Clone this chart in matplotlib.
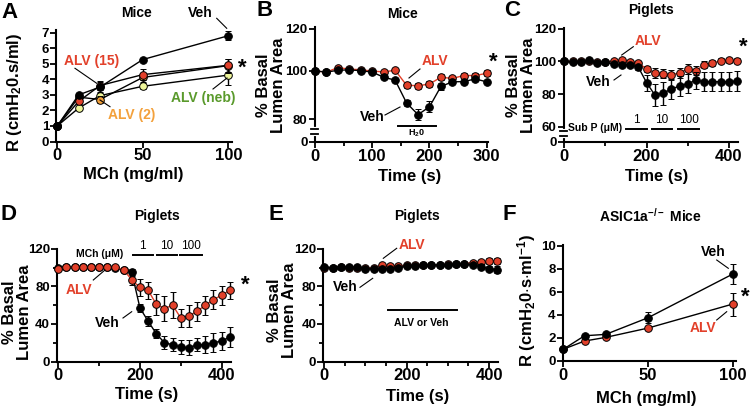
import numpy as np
import matplotlib
matplotlib.use('Agg')
import matplotlib.pyplot as plt
from matplotlib.lines import Line2D
from matplotlib.ticker import FixedLocator, NullLocator

plt.rcParams['font.family'] = ['Liberation Sans', 'DejaVu Sans']
plt.rcParams['font.weight'] = 'bold'
plt.rcParams['mathtext.fontset'] = 'custom'
plt.rcParams['mathtext.rm'] = 'Liberation Sans:bold'
plt.rcParams['mathtext.bf'] = 'Liberation Sans:bold'
plt.rcParams['mathtext.it'] = 'Liberation Sans:bold:italic'
plt.rcParams['mathtext.default'] = 'rm'
plt.rcParams['axes.linewidth'] = 1.5

RED = '#e2402a'
ORANGE = '#f3a13c'
YELLOW = '#eef59a'
GREEN = '#5a9a2c'

# ---- data ----
# A: mice, airway resistance vs MCh
a_dose = [0, 12.5, 25, 50, 100]
a_veh = [1.0, 3.0, 3.5, 5.27, 6.8]
a_veh_err = [0.05, 0.15, 0.3, 0.1, 0.3]
a_alv15 = [1.0, 2.58, 3.6, 4.3, 4.9]
a_alv15_err = [0.05, 0.2, 0.3, 0.35, 0.4]
a_alv2 = [1.0, 2.85, 2.7, 4.12, 4.88]
a_alv2_err = [0.05, 0.25, 0.2, 0.3, 0.45]
a_neb = [1.0, 2.15, 2.95, 3.55, 4.27]
a_neb_err = [0.05, 0.1, 0.2, 0.2, 0.62]

# B: mice, lumen area, H2O
b_time = [0, 20, 40, 60, 80, 100, 120, 140, 160, 180, 200, 220, 240, 260, 280, 300]
b_alv = [100, 99.5, 101.6, 100.8, 100.6, 99.9, 99.6, 100.3, 94.1, 93.9, 94.6, 97.4, 96.9, 98.1, 98.1, 99.0]
b_alv_err = [0.3, 0.3, 0.5, 0.5, 0.5, 0.5, 0.5, 0.5, 1.3, 1.2, 1.2, 1.3, 1.0, 1.0, 1.2, 1.2]
b_veh = [100, 99.5, 100.3, 100.5, 100.1, 99.5, 97.4, 96.2, 86.8, 82.0, 85.2, 93.6, 95.5, 95.6, 96.7, 95.5]
b_veh_err = [0.3, 0.3, 0.5, 0.5, 0.5, 0.8, 0.6, 0.8, 1.2, 2.5, 2.3, 1.5, 1.0, 1.0, 0.8, 0.5]
b_stim = [(145, 212)]

# C..E: piglets, lumen area
p_time = [0, 20, 40, 60, 80, 100, 120, 140, 160, 180, 200, 220, 240, 260, 280, 300,
          320, 340, 360, 380, 400, 420]
c_alv = [100, 100, 100, 100, 99.6, 99.6, 100.4, 100.6, 99.8, 99.0, 95.4, 93.0, 92.6, 91.8,
         93.0, 95.4, 94.4, 98.0, 99.0, 100.4, 100.8, 100.4]
c_alv_err = [0.5, 0.5, 0.5, 0.5, 0.5, 0.5, 0.5, 0.5, 0.8, 1.0, 2.0, 3.0, 3.0, 3.0, 3.0, 3.0,
             3.0, 2.0, 2.0, 1.5, 1.5, 1.5]
c_veh = [100.2, 99.6, 99.6, 100.6, 99.2, 99.4, 98.4, 98.0, 98.0, 96.4, 87.0, 79.4, 80.6, 83.0,
         85.0, 86.4, 88.4, 87.6, 87.6, 87.6, 87.6, 88.0]
c_veh_err = [0.5, 0.5, 0.5, 0.5, 0.5, 0.5, 0.7, 0.8, 1.0, 1.5, 5.0, 7.0, 7.0, 6.0, 6.0, 6.0,
             5.0, 6.0, 6.0, 6.0, 6.0, 6.0]
c_stim = [(150, 200), (212, 262), (277, 327)]
c_stim_labels = ['1', '10', '100']

d_alv = [99, 100.4, 100.4, 100.4, 100.4, 100.4, 100.4, 100.4, 98, 86.8, 79, 76, 61, 56.4,
         60, 46.4, 48.6, 53.6, 60, 66, 70.7, 76]
d_alv_err = [0.5, 0.5, 0.5, 0.5, 0.5, 0.5, 0.5, 0.5, 0.5, 5, 9, 9, 11, 13, 14, 10, 12, 10,
             10, 10, 10, 9]
d_veh = [100, 101, 100.4, 100.4, 100.4, 100.4, 100.4, 99.3, 98, 95, 57, 43, 29.6, 20, 17.9,
         15.4, 14.6, 17.9, 17.9, 20, 21.8, 26]
d_veh_err = [0.5, 0.5, 0.5, 0.5, 0.5, 0.5, 0.5, 0.5, 0.5, 4, 4, 5, 5, 7, 7, 7, 8, 7, 9, 10,
             10, 11]
d_stim = [(182, 232), (241, 290), (298, 351)]
d_stim_labels = ['1', '10', '100']

e_alv = [100, 100, 100.5, 100, 100, 99.5, 100, 102.5, 102, 102, 102.5, 103, 103, 103, 103,
         103.5, 104, 104.5, 105.5, 106, 107, 107]
e_alv_err = [0.5] * 18 + [1.5, 2, 3, 3]
e_veh = [100.5, 100.2, 101, 100.5, 100.5, 99, 98.5, 98.5, 99, 99.5, 102, 102, 102.5, 103, 103,
         102.5, 104, 103.5, 103, 101, 99, 98]
e_veh_err = [0.5] * 17 + [1, 1.5, 2.5, 3, 3.5]
e_stim = [(154, 323)]

# F: ASIC1a-/- mice
f_dose = [0, 12.5, 25, 50, 100]
f_veh = [1.0, 2.17, 2.29, 3.74, 7.54]
f_veh_err = [0.05, 0.15, 0.15, 0.5, 0.9]
f_alv = [1.0, 1.71, 2.03, 2.84, 4.93]
f_alv_err = [0.05, 0.1, 0.1, 0.15, 1.0]

W, H = 750, 408
fig = plt.figure(figsize=(W / 100, H / 100), dpi=100)


def make_ax(l, t, r, b):
    return fig.add_axes([l / W, 1 - b / H, (r - l) / W, (b - t) / H])


def ftext(x, y, s, **kw):
    kw.setdefault('ha', 'center')
    kw.setdefault('va', 'center')
    fig.text(x / W, 1 - y / H, s, **kw)


def fline(x1, y1, x2, y2, lw=0.8):
    fig.add_artist(Line2D([x1 / W, x2 / W], [1 - y1 / H, 1 - y2 / H], color='black', lw=lw))


def style(ax, xticks, yticks, yticklabels=None, xminor=(), yminor=()):
    ax.spines[['top', 'right']].set_visible(False)
    ax.xaxis.set_major_locator(FixedLocator(xticks))
    ax.yaxis.set_major_locator(FixedLocator(yticks))
    if yticklabels is not None:
        ax.set_yticklabels(yticklabels)
    ax.xaxis.set_minor_locator(FixedLocator(xminor) if len(xminor) else NullLocator())
    ax.yaxis.set_minor_locator(FixedLocator(yminor) if len(yminor) else NullLocator())
    ax.tick_params(which='major', length=4, width=1.3, direction='out')
    ax.tick_params(which='minor', length=3, width=1.3, direction='out')
    ax.tick_params(axis='x', labelsize=12, pad=1)
    ax.tick_params(axis='y', labelsize=9.5, pad=1)


def series(ax, x, y, e, face, line, z):
    cont = ax.errorbar(x, y, yerr=e, fmt='-o', color=line, mfc=face, mec='black', mew=0.7,
                       ms=5.5, lw=1.0, ecolor='black', elinewidth=1.0, capsize=2.5,
                       capthick=1.0, zorder=z)
    for art in [cont.lines[0], *cont.lines[1], *cont.lines[2]]:
        art.set_clip_on(False)


def broken_scale(ax, real, screen):
    real = np.asarray(real, float)
    screen = np.asarray(screen, float)
    ax.set_yscale('function', functions=(lambda v: np.interp(v, real, screen),
                                         lambda s: np.interp(s, screen, real)))


def axis_break(ax, lo, hi):
    tr = ax.get_yaxis_transform()
    ax.plot([0, 0], [lo, hi], color='white', lw=3, transform=tr, clip_on=False, zorder=5)
    for yy in (lo, hi):
        ax.plot([-0.018, 0.018], [yy, yy], color='black', lw=1.3, transform=tr,
                clip_on=False, zorder=6)


def stim_bars(ax, windows, ybar, labels=None, ylab=None):
    tr = ax.get_xaxis_transform()
    for i, (t0, t1) in enumerate(windows):
        ax.plot([t0, t1], [ybar, ybar], color='black', lw=1.4, transform=tr, clip_on=False)
        if labels:
            ax.text((t0 + t1) / 2, ylab, labels[i], transform=tr, ha='center', va='center',
                    fontsize=8.5, fontweight='normal')


# ---- A ----
axA = make_ax(56, 30, 231.5, 141.5)
series(axA, a_dose, a_neb, a_neb_err, YELLOW, 'black', 3)
series(axA, a_dose, a_alv2, a_alv2_err, ORANGE, 'black', 4)
series(axA, a_dose, a_alv15, a_alv15_err, RED, 'black', 5)
series(axA, a_dose, a_veh, a_veh_err, 'black', 'black', 6)
axA.set_xlim(-0.76, 101.9)
axA.set_ylim(0, 7.17)
style(axA, [0, 50, 100], [0, 1, 2, 3, 4, 5, 6, 7])

# ---- B ----
axB = make_ax(314.5, 27.5, 488, 141.7)
broken_scale(axB, [-50, 0, 80, 100, 120, 200], [-14, 0, 22.2, 70.7, 113, 282])
series(axB, b_time, b_alv, b_alv_err, RED, RED, 3)
series(axB, b_time, b_veh, b_veh_err, 'black', 'black', 4)
axB.set_xlim(-0.9, 302.3)
axB.set_ylim(0, 120.5)
style(axB, [0, 100, 200, 300], [0, 80, 100, 120], xminor=[50, 150, 250])
axis_break(axB, 27.7, 45.8)
stim_bars(axB, b_stim, 0.137)

# ---- C ----
axC = make_ax(563.5, 28, 738, 141.7)
broken_scale(axC, [-50, 0, 60, 120, 200], [-12.5, 0, 15, 113, 243.7])
series(axC, p_time, c_alv, c_alv_err, RED, RED, 3)
series(axC, p_time, c_veh, c_veh_err, 'black', 'black', 4)
axC.set_xlim(-1.9, 422)
axC.set_ylim(0, 120.5)
style(axC, [0, 200, 400], [0, 60, 80, 100, 120], xminor=[100, 300])
axis_break(axC, 22.8, 42.8)
stim_bars(axC, c_stim, 0.112, c_stim_labels, 0.19)

# ---- D ----
axD = make_ax(56.7, 248.5, 230.5, 361.5)
series(axD, p_time, d_veh, d_veh_err, 'black', 'black', 3)
series(axD, p_time, d_alv, d_alv_err, RED, RED, 4)
axD.set_xlim(-3.9, 421.7)
axD.set_ylim(0, 120.5)
style(axD, [0, 200, 400], [0, 40, 80, 120], xminor=[100, 300], yminor=[20, 60, 100])
stim_bars(axD, d_stim, 0.942, d_stim_labels, 1.02)

# ---- E ----
axE = make_ax(323.3, 248.5, 498, 361.5)
series(axE, p_time, e_alv, e_alv_err, RED, RED, 3)
series(axE, p_time, e_veh, e_veh_err, 'black', 'black', 4)
axE.set_xlim(-2.4, 421.6)
axE.set_ylim(0, 120.5)
style(axE, [0, 200, 400], [0, 40, 80, 120], xminor=[50, 100, 150, 250, 300, 350],
      yminor=[20, 60, 100])
stim_bars(axE, e_stim, 0.456)

# ---- F ----
axF = make_ax(562.5, 245.2, 735.5, 360.7)
series(axF, f_dose, f_alv, f_alv_err, RED, 'black', 3)
series(axF, f_dose, f_veh, f_veh_err, 'black', 'black', 4)
axF.set_xlim(-0.5, 101.6)
axF.set_ylim(0, 10.05)
style(axF, [0, 50, 100], [0, 2, 4, 6, 8, 10])

# ---- panel letters, titles, axis labels ----
for letter, x, y in [('A', 10, 12), ('B', 265, 10), ('C', 512, 10),
                     ('D', 9, 214), ('E', 276, 214), ('F', 509, 214)]:
    ftext(x, y, letter, fontsize=16)

for title, x, y in [('Mice', 136, 13), ('Mice', 402, 14), ('Piglets', 651, 10),
                    ('Piglets', 157, 216), ('Piglets', 417, 216),
                    ('ASIC1a$^{-/-}$ Mice', 650, 216)]:
    ftext(x, y, title, fontsize=10)

ftext(14, 92, 'R (cmH$_2$0.s/ml)', fontsize=12, rotation=90)
ftext(527, 300, 'R (cmH$_2$0$\\cdot$s$\\cdot$ml$^{-1}$)', fontsize=12, rotation=90)
for x, y in [(271, 85), (521, 85), (17, 312), (282, 310)]:
    ftext(x, y, '% Basal\nLumen Area', fontsize=12, rotation=90, linespacing=0.95)

for label, x, y in [('MCh (mg/ml)', 133, 174), ('Time (s)', 410, 177), ('Time (s)', 657, 177),
                    ('Time (s)', 147, 395), ('Time (s)', 418, 396),
                    ('MCh (mg/ml)', 646, 399)]:
    ftext(x, y, label, fontsize=12)

# ---- in-plot labels ----
ftext(200, 13, 'Veh', fontsize=10)
fline(216.7, 18.3, 226.7, 28.3)
ftext(92, 61, 'ALV (15)', fontsize=10, color=RED)
fline(75, 68.3, 96.7, 83.3)
ftext(132, 115, 'ALV (2)', fontsize=10, color=ORANGE)
fline(110, 106.7, 100, 100)
ftext(203, 98, 'ALV (neb)', fontsize=10, color=GREEN)
fline(213, 89, 227, 78)
ftext(242, 68, '*', fontsize=16)

ftext(435, 61, 'ALV', fontsize=10, color=RED)
fline(409, 78, 420, 69)
ftext(372, 117, 'Veh', fontsize=10)
fline(385, 115, 400, 107)
ftext(417, 133, 'H$_2$0', fontsize=6.5)
ftext(493, 62, '*', fontsize=16)

ftext(648, 41, 'ALV', fontsize=10, color=RED)
fline(621.7, 55, 633.3, 46.7)
ftext(598, 82, 'Veh', fontsize=10)
fline(614, 80, 621, 75)
ftext(595.5, 128.3, 'Sub P (\u03bcM)', fontsize=7.5)
ftext(743, 47, '*', fontsize=16)

ftext(100, 254, 'MCh (\u03bcM)', fontsize=7.5)
ftext(79, 290, 'ALV', fontsize=10, color=RED)
fline(93.3, 280, 105, 270)
ftext(107, 323, 'Veh', fontsize=10)
fline(123, 318, 131.7, 311.7)
ftext(245, 285, '*', fontsize=16)

ftext(412, 245, 'ALV', fontsize=10, color=RED)
fline(383.3, 258.3, 396.7, 248.3)
ftext(345, 287, 'Veh', fontsize=10)
fline(360, 287.3, 372.7, 278.3)
ftext(421.7, 323.3, 'ALV or Veh', fontsize=7.5)

ftext(713, 252, 'Veh', fontsize=10)
fline(716.7, 260, 728.3, 268.3)
ftext(703, 328, 'ALV', fontsize=10, color=RED)
fline(716.7, 320, 726.7, 311.7)
ftext(745, 297, '*', fontsize=16)

fig.savefig('out.png', dpi=100)
